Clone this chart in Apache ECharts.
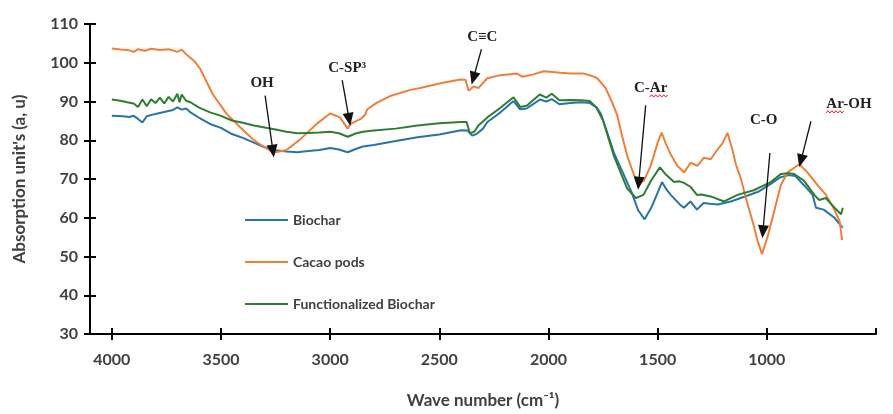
<!DOCTYPE html>
<html>
<head>
<meta charset="utf-8">
<script src="https://cdn.jsdelivr.net/npm/echarts@6/dist/echarts.min.js"></script>
<style>html,body{margin:0;padding:0;background:#fff;}#c{width:893px;height:414px;}</style>
</head>
<body>
<div id="c"></div>
<script>
// ---- data ----
const seriesNames = ['Biochar', 'Cacao pods', 'Functionalized Biochar'];
const xTicks = [4000, 3500, 3000, 2500, 2000, 1500, 1000, 500];
const yTicks = [30, 40, 50, 60, 70, 80, 90, 100, 110];

const wnBiochar = [4000,3950,3920,3900,3880,3860,3840,3800,3760,3720,3700,3680,3660,3640,3600,3550,3500,3450,3400,3350,3300,3250,3200,3150,3100,3050,3000,2960,2920,2880,2850,2800,2700,2600,2500,2400,2370,2350,2330,2300,2280,2220,2160,2130,2100,2040,2010,1985,1950,1900,1850,1810,1780,1760,1730,1700,1660,1620,1590,1560,1530,1500,1480,1460,1440,1400,1380,1350,1320,1290,1260,1225,1165,1100,1040,980,940,900,870,830,790,775,740,690,660,652];
const biochar = [86.3,86.2,86.0,86.3,85.5,84.6,86.2,86.8,87.3,87.8,88.5,87.9,88.2,87.2,85.8,84.2,83.2,81.6,80.6,79.4,78.2,77.4,77.1,76.9,77.2,77.5,78.0,77.6,76.9,77.8,78.4,78.8,79.8,80.8,81.5,82.6,82.5,81.2,81.6,83.0,84.7,87.2,90.1,88.0,88.2,90.5,90.0,90.6,89.3,89.6,89.8,89.6,88.5,86.8,81.8,76.7,71.7,66.7,62.0,59.6,62.5,66.5,69.2,67.3,65.9,63.5,62.6,64.2,62.1,63.8,63.6,63.4,64.2,65.5,66.7,68.8,70.4,71.0,70.8,68.4,65.9,62.6,62.1,60.0,57.9,57.5];

const wnCacao = [4000,3960,3920,3900,3880,3850,3820,3780,3740,3700,3680,3660,3620,3596,3537,3474,3413,3353,3320,3280,3250,3200,3140,3060,3000,2955,2920,2905,2860,2840,2830,2786,2725,2633,2587,2495,2404,2380,2366,2343,2320,2281,2220,2144,2120,2069,2022,1945,1900,1838,1800,1777,1739,1708,1685,1662,1639,1616,1593,1563,1532,1501,1482,1463,1440,1410,1379,1349,1318,1288,1257,1226,1203,1180,1158,1142,1119,1096,1066,1043,1022,997,974,951,936,905,851,814,768,729,691,667,655];
const cacao = [103.7,103.4,103.2,102.8,103.5,103.1,103.6,103.3,103.5,102.8,103.4,102.2,100.3,98.5,91.8,86.8,83.4,80.2,78.9,77.5,76.9,77.5,80.1,84.3,86.9,85.9,83.0,84.3,85.5,86.6,88.0,89.7,91.4,93.0,93.5,94.7,95.7,95.6,92.8,93.9,93.5,96.0,96.8,97.2,96.4,97.0,97.8,97.4,97.2,97.2,96.6,96.0,93.5,89.7,86.4,80.9,75.9,72.2,68.8,69.6,73.4,79.2,82.0,79.2,76.3,73.4,71.7,74.2,73.4,75.5,75.1,77.6,79.2,81.9,77.6,73.8,70.1,65.1,59.2,54.2,50.6,55.0,60.0,65.1,68.4,71.7,73.8,71.7,68.4,65.9,62.1,59.2,54.2];

const wnFunc = [4000,3960,3930,3900,3880,3860,3840,3820,3800,3780,3760,3740,3720,3700,3690,3680,3660,3640,3600,3550,3500,3450,3400,3350,3300,3250,3200,3150,3100,3050,3000,2960,2920,2880,2850,2800,2700,2600,2500,2400,2375,2360,2340,2320,2280,2220,2160,2130,2100,2040,2010,1985,1950,1900,1850,1810,1780,1750,1723,1700,1670,1640,1600,1565,1530,1490,1465,1425,1400,1380,1350,1320,1300,1257,1196,1134,1060,982,936,900,875,830,783,760,730,690,660,652];
const funcBiochar = [90.5,90.2,89.8,89.5,88.6,90.5,88.8,90.6,89.6,91.0,89.5,91.2,90.0,92.0,89.8,91.8,90.2,89.8,88.4,87.2,86.3,85.1,84.5,83.8,83.3,82.8,82.2,81.8,81.9,82.0,82.2,81.8,80.9,81.8,82.2,82.5,83.0,83.8,84.4,84.7,84.7,81.8,82.2,83.9,85.9,88.4,91.1,88.6,88.9,91.8,91.0,92.0,90.3,90.4,90.3,90.1,88.4,85.1,80.1,75.9,71.7,67.6,65.1,65.9,69.6,73.0,71.3,69.2,69.4,69.0,68.0,65.9,66.0,65.5,64.2,65.9,67.1,69.2,71.3,71.5,71.3,69.6,65.9,64.6,65.1,62.6,60.9,62.6];

// annotation labels and arrows (data coordinates)
const annLabels = ['OH', 'C-SP³', 'C≡C', 'C-Ar', 'C-O', 'Ar-OH'];
const annLabelPos = [[3312, 94.7], [2922, 98.5], [2303, 106.7], [1532, 93.5], [1014, 85.2], [624, 89.4]];
const annArrowFrom = [[3298, 91.5], [2945, 95.5], [2307, 103.5], [1555, 89.0], [986, 76.7], [798, 84.9]];
const annArrowTo = [[3262, 77.2], [2913, 85.4], [2344, 96.0], [1587, 68.9], [1018, 56.4], [844, 74.7]];

const colors = ['#2874A6', '#F07F3A', '#2E7D32'];

function pairs(xs, ys) { return xs.map((x, i) => [x, ys[i]]); }

const chart = echarts.init(document.getElementById('c'), null, { renderer: 'canvas' });
const labelFont = { fontFamily: 'Lato', fontWeight: 'bold', color: '#404040' };

const option = {
  animation: false,
  color: colors,
  grid: { left: 90, right: 17, top: 24, bottom: 71, containLabel: false },
  legend: {
    data: seriesNames,
    orient: 'vertical',
    left: 240, top: 208,
    itemWidth: 43, itemHeight: 14, itemGap: 28,
    icon: 'path://M0,6 L43,6 L43,8 L0,8 Z',
    textStyle: Object.assign({ fontSize: 14 }, labelFont)
  },
  xAxis: [{
    type: 'value', min: 500, max: 4100, interval: 500, inverse: true,
    name: 'Wave number (cm⁻¹)', nameLocation: 'middle', nameGap: 58,
    nameTextStyle: Object.assign({ fontSize: 17 }, labelFont),
    axisLine: { show: true, lineStyle: { color: '#000', width: 2 } },
    axisTick: { show: true, length: 6, customValues: xTicks, lineStyle: { color: '#000', width: 2 } },
    axisLabel: Object.assign({ fontSize: 16, margin: 18, customValues: xTicks, showMaxLabel: false,
      formatter: v => String(v) }, labelFont),
    splitLine: { show: false }
  }, {
    type: 'value', min: 500, max: 4100, interval: 500, inverse: true, position: 'bottom',
    axisLine: { show: false },
    axisTick: { show: true, inside: true, length: 6, customValues: xTicks, lineStyle: { color: '#000', width: 2 } },
    axisLabel: { show: false },
    splitLine: { show: false }
  }],
  yAxis: [{
    type: 'value', min: 30, max: 110, interval: 10,
    name: "Absorption unit's (a, u)", nameLocation: 'middle', nameGap: 62,
    nameTextStyle: Object.assign({ fontSize: 17 }, labelFont),
    axisLine: { show: true, lineStyle: { color: '#000', width: 2 } },
    axisTick: { show: true, length: 6, customValues: yTicks, lineStyle: { color: '#000', width: 2 } },
    axisLabel: Object.assign({ fontSize: 16, margin: 12, customValues: yTicks, formatter: v => String(v) }, labelFont),
    splitLine: { show: false }
  }, {
    type: 'value', min: 30, max: 110, interval: 10, position: 'left',
    axisLine: { show: false },
    axisTick: { show: true, inside: true, length: 6, customValues: yTicks, lineStyle: { color: '#000', width: 2 } },
    axisLabel: { show: false },
    splitLine: { show: false }
  }],
  series: [
    { name: seriesNames[0], type: 'line', data: pairs(wnBiochar, biochar), showSymbol: false, symbol: 'none', lineStyle: { width: 2 } },
    { name: seriesNames[1], type: 'line', data: pairs(wnCacao, cacao), showSymbol: false, symbol: 'none', lineStyle: { width: 2 } },
    { name: seriesNames[2], type: 'line', data: pairs(wnFunc, funcBiochar), showSymbol: false, symbol: 'none', lineStyle: { width: 2 },
      markLine: {
        silent: true, animation: false,
        symbol: ['none', 'triangle'], symbolSize: [11, 13],
        lineStyle: { color: '#111', width: 1.3, type: 'solid' },
        label: { show: false },
        data: annArrowFrom.map((f, i) => [{ coord: f }, { coord: annArrowTo[i] }])
      },
      markPoint: {
        silent: true, animation: false,
        symbol: 'circle', symbolSize: 0,
        label: { show: true, position: 'inside', fontFamily: 'Liberation Serif', fontWeight: 'bold', fontSize: 15, color: '#222',
          formatter: p => p.name },
        data: annLabels.map((t, i) => ({ name: t, coord: annLabelPos[i] }))
      }
    }
  ]
};
chart.setOption(option);

// red spell-check squiggles under "Ar" in two annotation labels (decoration, placed relative to the labels)
function squiggle(cx, cy, w) {
  const pts = [];
  for (let i = 0; i <= Math.round(w / 2); i++) pts.push([cx + i * 2, cy + (i % 2 ? -1.2 : 1.2)]);
  return { type: 'polyline', shape: { points: pts }, style: { stroke: '#E02020', lineWidth: 1, fill: null }, silent: true, z: 100 };
}
const pCAr = chart.convertToPixel({ xAxisIndex: 0, yAxisIndex: 0 }, annLabelPos[3]);
const pArOH = chart.convertToPixel({ xAxisIndex: 0, yAxisIndex: 0 }, annLabelPos[5]);
chart.setOption({ graphic: [ squiggle(pCAr[0] - 1, pCAr[1] + 8, 18), squiggle(pArOH[0] - 23, pArOH[1] + 8, 18) ] });
</script>
</body>
</html>
